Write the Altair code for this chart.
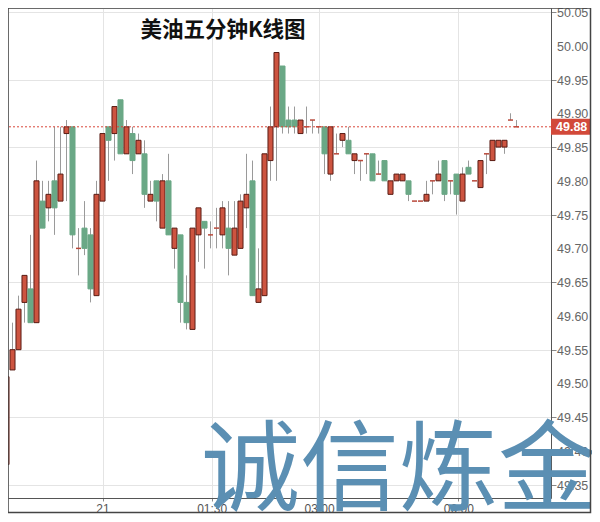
import altair as alt
import pandas as pd

# ---- data (5-minute candles, index-based x) ----
opens = [49.38, 49.52, 49.55, 49.62, 49.64, 49.59, 49.77, 49.76, 49.80, 49.77,
         49.87, 49.88, 49.70, 49.73, 49.72, 49.63, 49.77, 49.88, 49.87, 49.92,
         49.84, 49.87, 49.84, 49.84, 49.77, 49.80, 49.73, 49.80, 49.70, 49.72,
         49.62, 49.58, 49.72, 49.74, 49.72, 49.73, 49.72, 49.73, 49.69, 49.70,
         49.76, 49.80, 49.62, 49.63, 49.83, 49.88, 49.97, 49.89, 49.89, 49.87,
         49.88, 49.89, 49.88, 49.88, 49.81, 49.84, 49.86, 49.86, 49.83, 49.83,
         49.84, 49.84, 49.81, 49.83, 49.78, 49.80, 49.80, 49.80, 49.77, 49.77,
         49.77, 49.80, 49.80, 49.83, 49.80, 49.81, 49.77, 49.82, 49.80, 49.79,
         49.84, 49.83, 49.85, 49.85, 49.89, 49.88]
highs = [49.51, 49.59, 49.63, 49.66, 49.72, 49.83, 49.80, 49.80, 49.88, 49.88,
         49.89, 49.88, 49.73, 49.77, 49.73, 49.80, 49.87, 49.88, 49.91, 49.92,
         49.89, 49.88, 49.87, 49.86, 49.80, 49.80, 49.81, 49.84, 49.73, 49.72,
         49.66, 49.73, 49.76, 49.74, 49.74, 49.76, 49.77, 49.77, 49.77, 49.78,
         49.84, 49.83, 49.70, 49.84, 49.91, 49.99, 49.97, 49.91, 49.91, 49.89,
         49.91, 49.89, 49.88, 49.88, 49.88, 49.87, 49.87, 49.88, 49.84, 49.83,
         49.84, 49.84, 49.83, 49.83, 49.80, 49.81, 49.81, 49.80, 49.77, 49.77,
         49.80, 49.80, 49.83, 49.83, 49.80, 49.81, 49.82, 49.83, 49.80, 49.83,
         49.84, 49.86, 49.86, 49.86, 49.90, 49.89]
lows = [49.38, 49.52, 49.55, 49.59, 49.59, 49.59, 49.73, 49.74, 49.72, 49.77,
        49.77, 49.70, 49.66, 49.69, 49.62, 49.63, 49.77, 49.80, 49.83, 49.84,
        49.84, 49.81, 49.84, 49.76, 49.77, 49.74, 49.73, 49.72, 49.67, 49.59,
        49.58, 49.58, 49.68, 49.67, 49.70, 49.70, 49.70, 49.66, 49.69, 49.70,
        49.73, 49.63, 49.62, 49.63, 49.80, 49.80, 49.87, 49.87, 49.87, 49.87,
        49.87, 49.87, 49.87, 49.81, 49.80, 49.84, 49.85, 49.84, 49.81, 49.80,
        49.81, 49.80, 49.81, 49.80, 49.78, 49.80, 49.80, 49.77, 49.77, 49.77,
        49.77, 49.78, 49.80, 49.77, 49.78, 49.75, 49.77, 49.81, 49.80, 49.79,
        49.81, 49.83, 49.85, 49.84, 49.89, 49.88]
closes = [49.51, 49.55, 49.61, 49.66, 49.59, 49.80, 49.73, 49.78, 49.76, 49.81,
          49.88, 49.72, 49.70, 49.70, 49.64, 49.78, 49.87, 49.86, 49.91, 49.84,
          49.88, 49.83, 49.86, 49.78, 49.78, 49.77, 49.80, 49.72, 49.73, 49.62,
          49.59, 49.73, 49.76, 49.73, 49.72, 49.73, 49.76, 49.70, 49.73, 49.77,
          49.78, 49.63, 49.64, 49.84, 49.88, 49.99, 49.88, 49.88, 49.88, 49.89,
          49.88, 49.89, 49.88, 49.84, 49.88, 49.84, 49.87, 49.84, 49.84, 49.83,
          49.84, 49.80, 49.81, 49.80, 49.80, 49.81, 49.81, 49.78, 49.77, 49.77,
          49.78, 49.80, 49.81, 49.78, 49.80, 49.78, 49.81, 49.81, 49.80, 49.83,
          49.84, 49.86, 49.86, 49.86, 49.89, 49.88]

last_price = [49.88]
tick_pos = [16.0, 34.2, 52.1, 75.3]
tick_labels = ["21", "01:30", "03:00", "06:00"]
y_ticks = [49.35, 49.40, 49.45, 49.50, 49.55, 49.60, 49.65, 49.70,
           49.75, 49.80, 49.85, 49.90, 49.95, 50.00, 50.05]
title_text = ["美油五分钟K线图"]
watermark_text = ["诚信炼金"]

RED = "#cd5440"
RED_EDGE = "#5a1c14"
GREEN = "#6aa886"
WICK = "#9a9a9a"

df = pd.DataFrame({"i": list(range(len(opens))), "open": opens, "high": highs,
                   "low": lows, "close": closes})
df["x0"] = df["i"] - 0.42
df["x1"] = df["i"] + 0.42
df["dir"] = ["up" if c >= o else "down" for o, c in zip(opens, closes)]

W, H = 543, 490
xdom = [0.25, 90.75]
ydom = [49.3304, 50.0559]

label_expr = ""
for p, l in zip(tick_pos, tick_labels):
    label_expr += f"datum.value == {p} ? '{l}' : "
label_expr += "''"

xs = alt.Scale(domain=xdom, nice=False, zero=False)
ys = alt.Scale(domain=ydom, nice=False, zero=False)

x_axis = alt.Axis(values=tick_pos, labelExpr=label_expr, title=None, grid=True,
                  gridColor="#e4e4e4", domainColor="#555", tickColor="#888",
                  tickSize=3, labelColor="#555", labelFontSize=12,
                  labelFont="Liberation Sans", labelPadding=2,
                  labelOverlap=False)
y_axis = alt.Axis(values=y_ticks, orient="right", title=None, labels=False,
                  grid=True, gridColor="#e4e4e4", domainColor="#555",
                  tickColor="#888", tickSize=5)

base = alt.Chart(df)

wicks = base.mark_rule(color=WICK, strokeWidth=1, clip=True).encode(
    x=alt.X("i:Q", scale=xs, axis=x_axis),
    y=alt.Y("low:Q", scale=ys, axis=y_axis),
    y2="high:Q",
)

bodies = base.transform_filter("datum.open != datum.close").mark_rect(
    strokeWidth=1, clip=True).encode(
    x=alt.X("x0:Q", scale=xs),
    x2="x1:Q",
    y=alt.Y("open:Q", scale=ys),
    y2="close:Q",
    fill=alt.Fill("dir:N", scale=alt.Scale(domain=["up", "down"], range=[RED, GREEN]), legend=None),
    stroke=alt.Stroke("dir:N", scale=alt.Scale(domain=["up", "down"], range=[RED_EDGE, GREEN]), legend=None),
)

dojis = base.transform_filter("datum.open == datum.close").mark_rule(
    color="#b8483a", strokeWidth=1.5, clip=True).encode(
    x=alt.X("x0:Q", scale=xs),
    x2="x1:Q",
    y=alt.Y("open:Q", scale=ys),
)

# y tick labels (right side), one per tick value
ylabels = alt.Chart(pd.DataFrame({"v": y_ticks})).mark_text(
    color="#666", fontSize=12.5, font="Liberation Sans", align="left",
    baseline="middle", dy=1, clip=False).encode(
    x=alt.value(549),
    y=alt.Y("v:Q", scale=ys),
    text=alt.Text("v:Q", format=".2f"),
)

pdf = pd.DataFrame({"p": last_price})
price_line = alt.Chart(pdf).mark_rule(color="#d9463a", strokeWidth=1,
                                      strokeDash=[2, 2]).encode(
    y=alt.Y("p:Q", scale=ys),
)
price_box = alt.Chart(pdf).mark_point(
    shape="M-1,-0.4L1,-0.4L1,0.4L-1,0.4Z", size=1600, filled=True,
    color="#d2493a", opacity=1, clip=False).encode(
    x=alt.value(563),
    y=alt.Y("p:Q", scale=ys),
)
price_text = alt.Chart(pdf).mark_text(
    color="white", fontSize=12.5, fontWeight="bold", font="Liberation Sans",
    align="left", baseline="middle", clip=False).encode(
    x=alt.value(548),
    y=alt.Y("p:Q", scale=ys),
    text=alt.Text("p:Q", format=".2f"),
)

title = alt.Chart(pd.DataFrame({"t": title_text})).mark_text(
    font="Noto Sans CJK SC", fontSize=21.5, fontWeight="bold", color="#111",
    align="center", baseline="middle").encode(
    x=alt.value(215), y=alt.value(23), text="t:N")

watermark = alt.Chart(pd.DataFrame({"t": watermark_text})).mark_text(
    font="Noto Sans CJK SC", fontSize=99, fontWeight="normal", color="#5b8fb3",
    align="center", baseline="middle", clip=False).encode(
    x=alt.value(391), y=alt.value(465), text="t:N")

frame = alt.Chart(pd.DataFrame({"f": [0]})).mark_rect(
    fill=None, fillOpacity=0, stroke="#444", strokeWidth=1.5, clip=False).encode(
    x=alt.value(0), x2=alt.value(582.5), y=alt.value(0), y2=alt.value(504.5))

chart = alt.layer(
    wicks, bodies, dojis, ylabels, price_line, price_box, price_text,
    title, watermark, frame
).properties(
    width=W, height=H,
    autosize=alt.AutoSizeParams(type="none"),
    padding={"left": 0, "top": 0, "right": 41, "bottom": 16},
).configure_view(
    stroke="#444", strokeWidth=1
).configure(background="white")

chart.save("out.html", embed_options={"renderer": "svg", "actions": False})
